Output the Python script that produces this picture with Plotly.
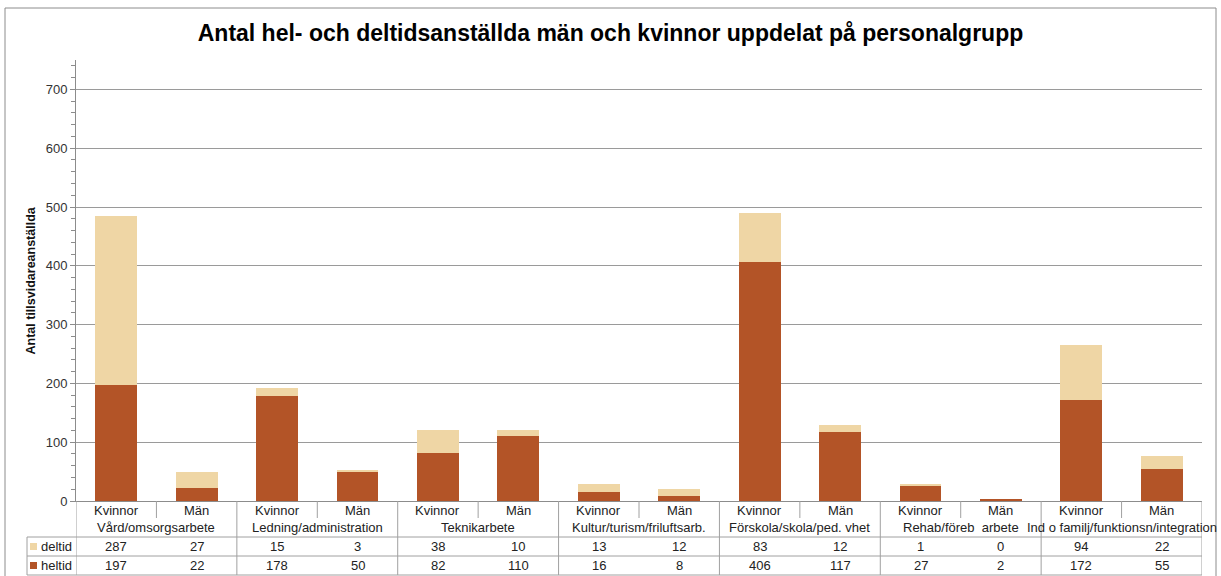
import plotly.graph_objects as go

groups = ["Vård/omsorgsarbete", "Ledning/administration", "Teknikarbete",
          "Kultur/turism/friluftsarb.", "Förskola/skola/ped. vhet",
          "Rehab/föreb  arbete", "Ind o familj/funktionsn/integration"]
genders = ["Kvinnor", "Män"]
deltid = [287, 27, 15, 3, 38, 10, 13, 12, 83, 12, 1, 0, 94, 22]
heltid = [197, 22, 178, 50, 82, 110, 16, 8, 406, 117, 27, 2, 172, 55]

C_HEL = "#B35427"
C_DEL = "#EFD6A5"
GRID = "#9a9a9a"
TXT = "#222222"
FONT = "Liberation Sans, Arial, sans-serif"
FS = 13

# layout geometry (pixels)
W, H = 1221, 576
L, R, T, B = 76, 19, 60, 75
PW, PH = W - L - R, H - T - B


def py(p):
    return (H - B - p) / PH


def px(p):
    return (p - L) / PW


n = len(deltid)
xs = list(range(n))

fig = go.Figure()
fig.add_trace(go.Bar(x=xs, y=heltid, name="heltid", marker=dict(color=C_HEL, line=dict(width=0))))
fig.add_trace(go.Bar(x=xs, y=deltid, name="deltid", marker=dict(color=C_DEL, line=dict(width=0))))

shapes = []
annotations = []

# outer chart border
shapes.append(dict(type="rect", xref="paper", yref="paper", x0=px(5), x1=px(1216), y0=py(590), y1=py(8),
                   line=dict(color="#8c8c8c", width=1), layer="below"))

# category separators
for i in range(n + 1):
    xv = i - 0.5
    if i == 0 or i == n or i % 2 == 0:
        yb = py(575)
    else:
        yb = py(518)
    shapes.append(dict(type="line", xref="x", yref="paper", x0=xv, x1=xv, y0=0, y1=yb,
                       line=dict(color="#a0a0a0", width=1)))

# table horizontal lines
for yy in (537, 556, 575):
    shapes.append(dict(type="line", xref="paper", yref="paper", x0=px(27), x1=1, y0=py(yy), y1=py(yy),
                       line=dict(color="#a0a0a0", width=1)))
# table left edge
shapes.append(dict(type="line", xref="paper", yref="paper", x0=px(27), x1=px(27), y0=py(537), y1=py(575),
                   line=dict(color="#a0a0a0", width=1)))

# category labels
for i in range(n):
    annotations.append(dict(x=i, y=py(510), xref="x", yref="paper", text=genders[i % 2], showarrow=False,
                            xanchor="center", yanchor="middle", font=dict(size=FS, color=TXT, family=FONT)))
for g, name in enumerate(groups):
    annotations.append(dict(x=2 * g + 0.5, y=py(527.5), xref="x", yref="paper", text=name, showarrow=False,
                            xanchor="center", yanchor="middle", font=dict(size=FS, color=TXT, family=FONT)))

# table values
for i in range(n):
    annotations.append(dict(x=i, y=py(546.5), xref="x", yref="paper", text=str(deltid[i]), showarrow=False,
                            xanchor="center", yanchor="middle", font=dict(size=FS, color=TXT, family=FONT)))
    annotations.append(dict(x=i, y=py(565.5), xref="x", yref="paper", text=str(heltid[i]), showarrow=False,
                            xanchor="center", yanchor="middle", font=dict(size=FS, color=TXT, family=FONT)))

# legend keys in table
for yy, col, lab in ((546.5, C_DEL, "deltid"), (565.5, C_HEL, "heltid")):
    shapes.append(dict(type="rect", xref="paper", yref="paper", x0=px(30), x1=px(37), y0=py(yy + 3.5),
                       y1=py(yy - 3.5), fillcolor=col, line=dict(width=0)))
    annotations.append(dict(x=px(39), y=py(yy), xref="paper", yref="paper", text=lab, showarrow=False,
                            xanchor="left", yanchor="middle", font=dict(size=FS, color=TXT, family=FONT)))

# y-axis title
annotations.append(dict(x=px(30), y=0.5, xref="paper", yref="paper", text="<b>Antal tillsvidareanställda</b>",
                        textangle=-90, showarrow=False, xanchor="center", yanchor="middle",
                        font=dict(size=12.5, color="#111111", family=FONT)))

fig.update_layout(
    width=W, height=H,
    margin=dict(l=L, r=R, t=T, b=B, pad=0),
    paper_bgcolor="white", plot_bgcolor="white",
    barmode="stack", bargap=0.48,
    showlegend=False,
    title=dict(text="<b>Antal hel- och deltidsanställda män och kvinnor uppdelat på personalgrupp</b>",
               x=0.5, xref="container", xanchor="center", y=1 - 33 / H, yanchor="middle",
               font=dict(size=23, color="#000000", family=FONT)),
    xaxis=dict(range=[-0.5, n - 0.5], showticklabels=False, ticks="", showgrid=False, zeroline=False,
               showline=True, linecolor="#8c8c8c", linewidth=1, fixedrange=True),
    yaxis=dict(range=[0, 750], tickvals=[0, 100, 200, 300, 400, 500, 600, 700], showgrid=True,
               gridcolor=GRID, gridwidth=1, zeroline=False, showline=True, linecolor="#8c8c8c",
               linewidth=1, ticks="outside", ticklen=5, tickcolor="#8c8c8c",
               tickfont=dict(size=FS, color="#333333", family=FONT),
               minor=dict(dtick=20, ticks="outside", ticklen=4, tickcolor="#8c8c8c", showgrid=False)),
    shapes=shapes,
    annotations=annotations,
)

fig.write_html("out.html", config={"displayModeBar": False},
               post_script="document.body.style.margin='0';document.body.style.overflow='hidden';")
